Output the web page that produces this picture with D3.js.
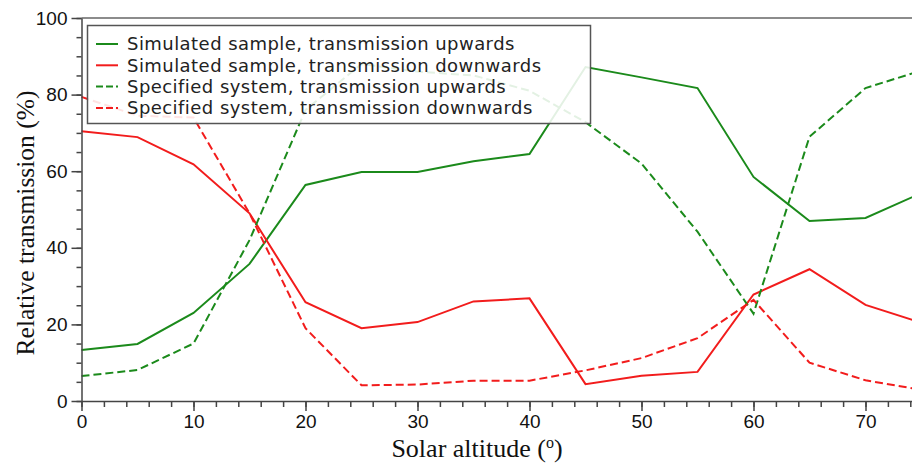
<!DOCTYPE html>
<meta charset="utf-8">
<script src="https://d3js.org/d3.v7.min.js"></script>
<style>
  body { margin: 0; background: #fff; }
  .tick text { font-family: "Liberation Sans", Arial, sans-serif; font-size: 19px; fill: #111; }
</style>
<div id="chart"></div>
<script>

// solar altitude (degrees)
var altitude = [0, 5, 10, 15, 20, 25, 30, 35, 40, 45, 50, 55, 60, 65, 70, 75];

// relative transmission (%)
var simUp   = [13.3, 14.9, 23.0, 35.8, 56.4, 59.8, 59.8, 62.6, 64.5, 87.2, 84.5, 81.7, 58.5, 47.0, 47.8, 54.3];
var simDown = [70.4, 68.9, 61.8, 49.0, 25.8, 19.0, 20.6, 26.0, 26.8, 4.4, 6.6, 7.6, 27.8, 34.4, 25.1, 20.4];
var specUp   = [6.5, 8.1, 15.0, 42.0, 76.0, 88.0, 86.0, 85.0, 81.0, 72.8, 62.0, 44.2, 22.8, 69.0, 81.7, 86.3];
var specDown = [79.4, 74.5, 74.0, 49.0, 19.0, 4.1, 4.3, 5.3, 5.3, 8.0, 11.2, 16.4, 26.4, 10.0, 5.4, 2.9];

var series = [
  {name: "Simulated sample, transmission upwards",   values: simUp,    color: "#1b8a1b", dash: null},
  {name: "Simulated sample, transmission downwards", values: simDown,  color: "#f21c1c", dash: null},
  {name: "Specified system, transmission upwards",   values: specUp,   color: "#1b8a1b", dash: "8,4"},
  {name: "Specified system, transmission downwards", values: specDown, color: "#f21c1c", dash: "8,4"}
];

var xTicks = [0, 10, 20, 30, 40, 50, 60, 70];
var yTicks = [0, 20, 40, 60, 80, 100];

var width = 912, height = 464;

var svg = d3.select("#chart")
  .append("svg")
    .attr("width", width)
    .attr("height", height);

var x = d3.scaleLinear()
  .domain([0, 75])
  .range([81.5, 81.5 + 75 * 11.2]);

var y = d3.scaleLinear()
  .domain([0, 100])
  .range([401, 18]);

// top frame
svg.append("line")
  .attr("x1", x(0)).attr("x2", width)
  .attr("y1", y(100)).attr("y2", y(100))
  .attr("stroke", "#666").attr("stroke-width", 1.5);

// lines
var line = d3.line()
  .x(function (d, i) { return x(altitude[i]); })
  .y(function (d) { return y(d); });

svg.append("g")
  .selectAll("path")
  .data(series)
  .enter()
  .append("path")
    .attr("d", function (d) { return line(d.values); })
    .attr("fill", "none")
    .attr("stroke", function (d) { return d.color; })
    .attr("stroke-width", 2)
    .attr("stroke-dasharray", function (d) { return d.dash; });

// X axis: minor ticks every 2, labels every 10
svg.append("g")
  .attr("transform", "translate(0," + y(0) + ")")
  .call(d3.axisBottom(x).tickValues(d3.range(0, 76, 2)).tickSize(6).tickFormat(""))
  .call(function (g) { g.select(".domain").remove(); })
  .selectAll("line").attr("stroke", "#444").attr("stroke-width", 1.5);

svg.append("g")
  .attr("transform", "translate(0," + y(0) + ")")
  .call(d3.axisBottom(x).tickValues(xTicks).tickSize(10).tickPadding(4).tickSizeOuter(0))
  .call(function (g) {
    g.select(".domain").attr("stroke", "#444").attr("stroke-width", 1.5);
    g.selectAll("line").attr("stroke", "#444").attr("stroke-width", 1.5);
  });

// Y axis: minor ticks every 5
svg.append("g")
  .attr("transform", "translate(" + x(0) + ",0)")
  .call(d3.axisLeft(y).tickValues(d3.range(0, 101, 5)).tickSize(5).tickFormat(""))
  .call(function (g) { g.select(".domain").remove(); })
  .selectAll("line").attr("stroke", "#444").attr("stroke-width", 1.5);

svg.append("g")
  .attr("transform", "translate(" + x(0) + ",0)")
  .call(d3.axisLeft(y).tickValues(yTicks).tickSize(10).tickPadding(4).tickSizeOuter(0))
  .call(function (g) {
    g.select(".domain").attr("stroke", "#444").attr("stroke-width", 1.5);
    g.selectAll("line").attr("stroke", "#444").attr("stroke-width", 1.5);
  });

// axis titles
var xTitle = svg.append("text")
  .attr("x", 477)
  .attr("y", 457)
  .attr("text-anchor", "middle")
  .style("font-family", "'Liberation Serif', 'Times New Roman', serif")
  .style("font-size", "26px")
  .attr("fill", "#111");
xTitle.append("tspan").text("Solar altitude (");
xTitle.append("tspan").attr("dy", -9).style("font-size", "16px").text("o");
xTitle.append("tspan").attr("dy", 9).text(")");

svg.append("text")
  .attr("transform", "translate(34," + 223 + ") rotate(-90)")
  .attr("text-anchor", "middle")
  .style("font-family", "'Liberation Serif', 'Times New Roman', serif")
  .style("font-size", "25.5px")
  .attr("fill", "#111")
  .text("Relative transmission (%)");

// legend
var legend = svg.append("g");
legend.append("rect")
  .attr("x", 87.5).attr("y", 25.5)
  .attr("width", 503).attr("height", 98)
  .attr("fill", "#fff").attr("fill-opacity", 0.88)
  .attr("stroke", "#555").attr("stroke-width", 1.5);

var rows = legend.selectAll("g.row")
  .data(series)
  .enter()
  .append("g")
    .attr("class", "row")
    .attr("transform", function (d, i) { return "translate(0," + (44 + i * 21.3) + ")"; });

rows.append("line")
  .attr("x1", 96).attr("x2", 118)
  .attr("stroke", function (d) { return d.color; })
  .attr("stroke-width", 2)
  .attr("stroke-dasharray", function (d) { return d.dash ? "7,3" : null; });

rows.append("text")
  .attr("x", 127)
  .attr("dy", "0.35em")
  .style("font-family", "'DejaVu Sans', sans-serif")
  .style("font-size", "18px")
  .style("letter-spacing", "0.45px")
  .attr("fill", "#222")
  .text(function (d) { return d.name; });

</script>
